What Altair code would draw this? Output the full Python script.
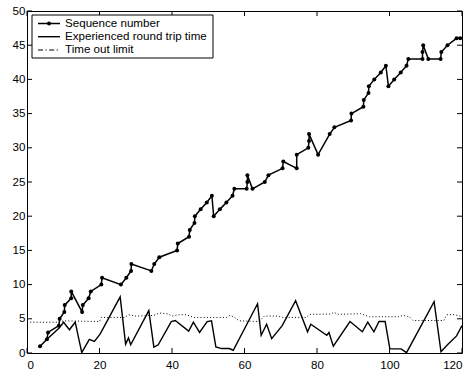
import altair as alt
import pandas as pd

# Sequence number series (time, seq)
seq_t = [3.6, 5.5, 5.8, 8.8, 9.0, 10.3, 10.4, 12.2, 12.2, 15.2, 15.4, 17.0, 17.6, 20.5, 20.7,
         25.9, 27.4, 28.7, 28.8, 34.3, 35.1, 36.5, 41.4, 41.6, 44.7, 44.9, 46.2, 46.3, 47.9,
         49.6, 51.0, 51.5, 53.2, 55.0, 56.7, 57.2, 60.6, 60.8, 60.8, 62.2, 65.6, 66.6, 70.5,
         70.7, 74.4, 74.4, 77.6, 77.8, 77.8, 80.3, 83.5, 84.8, 89.4, 89.5, 92.8, 92.9, 94.2,
         94.3, 95.8, 97.6, 99.0, 99.7, 101.3, 103.1, 104.7, 105.2, 109.1, 109.1, 109.3, 110.7,
         114.1, 114.3, 116.0, 118.5, 119.5]
seq_n = [1, 2, 3, 4, 5, 6, 7, 8, 9, 6, 7, 8, 9, 10, 11,
         10, 11, 12, 13, 12, 13, 14, 15, 16, 17, 18, 19, 20, 21,
         22, 23, 20, 21, 22, 23, 24, 24, 25, 26, 24, 25, 26, 27,
         28, 27, 29, 30, 31, 32, 29, 32, 33, 34, 35, 36, 37, 38,
         39, 40, 41, 42, 39, 40, 41, 42, 43, 43, 44, 45, 43,
         43, 44, 45, 46, 46]

# Experienced round trip time
rtt_t = [5.5, 8.8, 10.1, 11.7, 13.3, 15.1, 17.2, 18.6, 20.2, 25.7, 27.2, 28.0, 28.6, 33.6,
         35.0, 36.2, 39.8, 40.9, 44.6, 45.9, 47.6, 49.7, 50.9, 52.1, 53.7, 55.8, 56.9, 63.6,
         64.6, 66.1, 67.5, 70.4, 74.1, 77.4, 78.3, 82.7, 83.3, 84.5, 89.1, 92.5, 94.0, 95.7,
         97.1, 98.8, 100.1, 103.2, 104.7, 112.3, 114.2, 116.2, 118.5, 120.0]
rtt_v = [2.0, 3.6, 4.5, 3.4, 4.5, 0.05, 2.0, 1.7, 2.8, 8.2, 1.3, 2.2, 1.2, 6.2,
         0.85, 1.2, 4.6, 4.75, 3.2, 4.5, 3.0, 4.6, 4.7, 0.9, 0.65, 0.65, 0.4, 7.2,
         2.6, 4.2, 2.1, 4.0, 7.65, 3.1, 4.2, 2.6, 3.0, 1.0, 4.6, 3.1, 4.5, 3.1,
         4.6, 4.6, 0.6, 0.6, 0.05, 7.5, 0.2, 1.3, 2.5, 4.0]

# Time out limit
to_t = [0, 9, 10, 20, 20.5, 27, 28, 30, 35, 36.5, 39, 40, 42, 44, 46, 55, 56, 57, 58.5,
        64, 65.5, 69, 70.5, 77, 78, 84, 84.5, 86, 92, 94.5, 102.5, 103.8, 105.5, 106.5,
        115, 115.8, 118, 120]
to_v = [4.5, 4.5, 4.7, 4.6, 5.2, 5.2, 5.6, 5.4, 5.5, 5.85, 5.7, 5.4, 5.6, 5.6, 5.2, 5.2, 5.5, 5.3, 4.7,
        4.6, 5.4, 5.4, 5.2, 5.2, 5.65, 5.7, 5.95, 5.65, 5.75, 5.3, 5.3, 5.5, 5.3, 4.75,
        4.75, 5.6, 5.6, 5.3]

x_ticks = [0, 20, 40, 60, 80, 100, 120]
y_ticks = [0, 5, 10, 15, 20, 25, 30, 35, 40, 45, 50]
legend_labels = ["Sequence number", "Experienced round trip time", "Time out limit"]

W, H = 435, 342
FONT = "Liberation Sans"
FS = 11.6

seq_df = pd.DataFrame({"t": seq_t, "v": seq_n, "i": range(len(seq_t))})
rtt_df = pd.DataFrame({"t": rtt_t, "v": rtt_v, "i": range(len(rtt_t))})
to_df = pd.DataFrame({"t": to_t, "v": to_v, "i": range(len(to_t))})

xs = alt.Scale(domain=[0, 120], nice=False)
ys = alt.Scale(domain=[0, 50], nice=False)
xax = alt.Axis(values=x_ticks, tickSize=0, domain=False, grid=False, labelPadding=6,
               labelFont=FONT, labelFontSize=FS, labelColor="black", title=None)
yax = alt.Axis(values=y_ticks, tickSize=0, domain=False, grid=False, labelPadding=2,
               labelFont=FONT, labelFontSize=FS, labelColor="black", title=None)

X = alt.X("t:Q", scale=xs, axis=xax)
Y = alt.Y("v:Q", scale=ys, axis=yax)

timeout = alt.Chart(to_df).mark_line(color="black", strokeWidth=1, strokeDash=[1, 2.2]).encode(
    x=X, y=Y, order="i:O")
rtt = alt.Chart(rtt_df).mark_line(color="black", strokeWidth=1.4).encode(x=X, y=Y, order="i:O")
seq = alt.Chart(seq_df).mark_line(color="black", strokeWidth=1.5,
                                  point=alt.OverlayMarkDef(filled=True, color="black", size=16)
                                  ).encode(x=X, y=Y, order="i:O")

xt = pd.DataFrame({"t": x_ticks})
yt = pd.DataFrame({"v": y_ticks})
tick_b = alt.Chart(xt).mark_rule(color="black", strokeWidth=1).encode(
    x=alt.X("t:Q", scale=xs, axis=xax), y=alt.value(H), y2=alt.value(H - 5))
tick_t = alt.Chart(xt).mark_rule(color="black", strokeWidth=1).encode(
    x=alt.X("t:Q", scale=xs, axis=xax), y=alt.value(0), y2=alt.value(5))
tick_l = alt.Chart(yt).mark_rule(color="black", strokeWidth=1).encode(
    y=alt.Y("v:Q", scale=ys, axis=yax), x=alt.value(0), x2=alt.value(5))
tick_r = alt.Chart(yt).mark_rule(color="black", strokeWidth=1).encode(
    y=alt.Y("v:Q", scale=ys, axis=yax), x=alt.value(W), x2=alt.value(W - 5))

one = pd.DataFrame({"a": [0]})
box = alt.Chart(one).mark_rect(fill="white", stroke="black", strokeWidth=1).encode(
    x=alt.value(5), x2=alt.value(186), y=alt.value(4), y2=alt.value(47))
rows = [12.5, 25.7, 39.0]
leg = [box]
leg.append(alt.Chart(one).mark_rule(color="black", strokeWidth=1.5).encode(
    x=alt.value(11), x2=alt.value(33), y=alt.value(rows[0])))
leg.append(alt.Chart(one).mark_point(filled=True, color="black", size=16, opacity=1).encode(
    x=alt.value(22), y=alt.value(rows[0])))
leg.append(alt.Chart(one).mark_rule(color="black", strokeWidth=1.4).encode(
    x=alt.value(11), x2=alt.value(33), y=alt.value(rows[1])))
leg.append(alt.Chart(one).mark_rule(color="black", strokeWidth=1, strokeDash=[5, 2.5, 1.2, 2.5]).encode(
    x=alt.value(11), x2=alt.value(33), y=alt.value(rows[2])))
for lab, r in zip(legend_labels, rows):
    leg.append(alt.Chart(one).mark_text(align="left", baseline="middle", font=FONT,
                                        fontSize=FS, color="black").encode(
        x=alt.value(38), y=alt.value(r), text=alt.value(lab)))

chart = alt.layer(timeout, rtt, seq, tick_b, tick_t, tick_l, tick_r, *leg).properties(
    width=W, height=H,
    autosize=alt.AutoSizeParams(type="none"),
    padding={"left": 27, "top": 11, "right": 9, "bottom": 19},
    background="white",
).configure_view(stroke="black", strokeWidth=1)

chart.save("out.html", embed_options={"renderer": "svg", "actions": False})
